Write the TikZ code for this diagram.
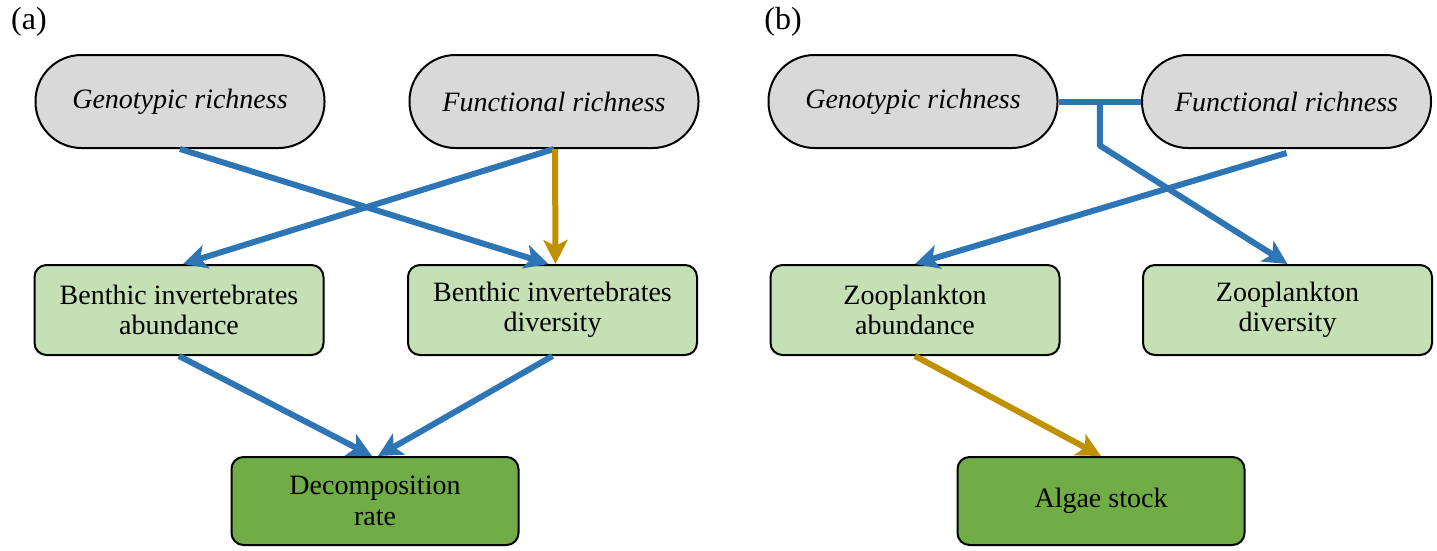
\documentclass[tikz,border=0pt]{standalone}
\usepackage{fontspec}
\setmainfont{Liberation Serif}
\usetikzlibrary{arrows.meta,calc}
\definecolor{arrblue}{HTML}{2E75B6}
\definecolor{arrgold}{HTML}{BF9000}
\definecolor{graybox}{HTML}{D9D9D9}
\definecolor{lightgreen}{HTML}{C5E0B4}
\definecolor{darkgreen}{HTML}{70AD47}
\tikzset{
  base/.style={draw=black, line width=2pt, align=center, inner sep=0pt,
    font=\fontsize{28}{30.5}\selectfont},
  stadium/.style={base, fill=graybox, rounded corners=46pt, minimum width=289pt, minimum height=93pt, font=\fontsize{28}{30.5}\selectfont\itshape},
  midbox/.style={base, fill=lightgreen, rounded corners=12pt, minimum width=289pt, minimum height=90pt},
  endbox/.style={base, fill=darkgreen, rounded corners=12pt, minimum width=287pt, minimum height=88pt},
  blue arrow/.style={draw=arrblue, line width=6pt, -{Stealth[length=24pt,width=24pt,inset=6pt]}},
  gold arrow/.style={draw=arrgold, line width=6pt, -{Stealth[length=24pt,width=24pt,inset=6pt]}},
  blue line/.style={draw=arrblue, line width=6pt},
  panel/.style={font=\fontsize{32}{36}\selectfont, inner sep=0pt}
}
\begin{document}
\begin{tikzpicture}[x=1pt,y=-1pt]
\useasboundingbox (0,0) rectangle (1437,550);
% panel labels
\node[panel] (la) at (29,22) {(a)};
\node[panel] (lb) at (783,22) {(b)};
% panel (a)
\node[stadium] (ga) at (180,101.5) {Genotypic richness};
\node[stadium] (fa) at (554,101.5) {Functional richness};
\node[midbox] (ba) at (179,310) {Benthic invertebrates\\abundance};
\node[midbox] (bd) at (552.5,310) {Benthic invertebrates\\diversity};
\node[endbox] (dr) at (375,501) {Decomposition\\rate};
% panel (b)
\node[stadium] (gb) at (913,101.5) {Genotypic richness};
\node[stadium] (fb) at (1286.5,101.5) {Functional richness};
\node[midbox] (za) at (915,310) {Zooplankton\\abundance};
\node[midbox] (zd) at (1287.5,310) {Zooplankton\\diversity};
\node[endbox] (as) at (1101,501) {Algae stock};
% connectors (a)
\draw[blue arrow] (ga.south) -- ([xshift=-4pt]bd.north);
\draw[blue arrow] (fa.south) -- ([xshift=4pt]ba.north);
\draw[gold arrow] ([xshift=1pt]fa.south) -- ([xshift=3pt]bd.north);
\draw[blue arrow] (ba.south) -- ([xshift=-3pt]dr.north);
\draw[blue arrow] (bd.south) -- ([xshift=3pt]dr.north);
% connectors (b)
\coordinate (jn) at ($(gb.east)!0.5!(fb.west)$);
\coordinate (bend) at ($(jn)+(0,44)$);
\draw[blue line] (gb.east) -- (fb.west);
\draw[blue arrow, line join=round] (jn) -- (bend) -- (zd.north);
\draw[blue arrow] ([yshift=-4pt]fb.south) -- (za.north);
\draw[gold arrow] (za.south) -- (as.north);
\end{tikzpicture}
\end{document}
